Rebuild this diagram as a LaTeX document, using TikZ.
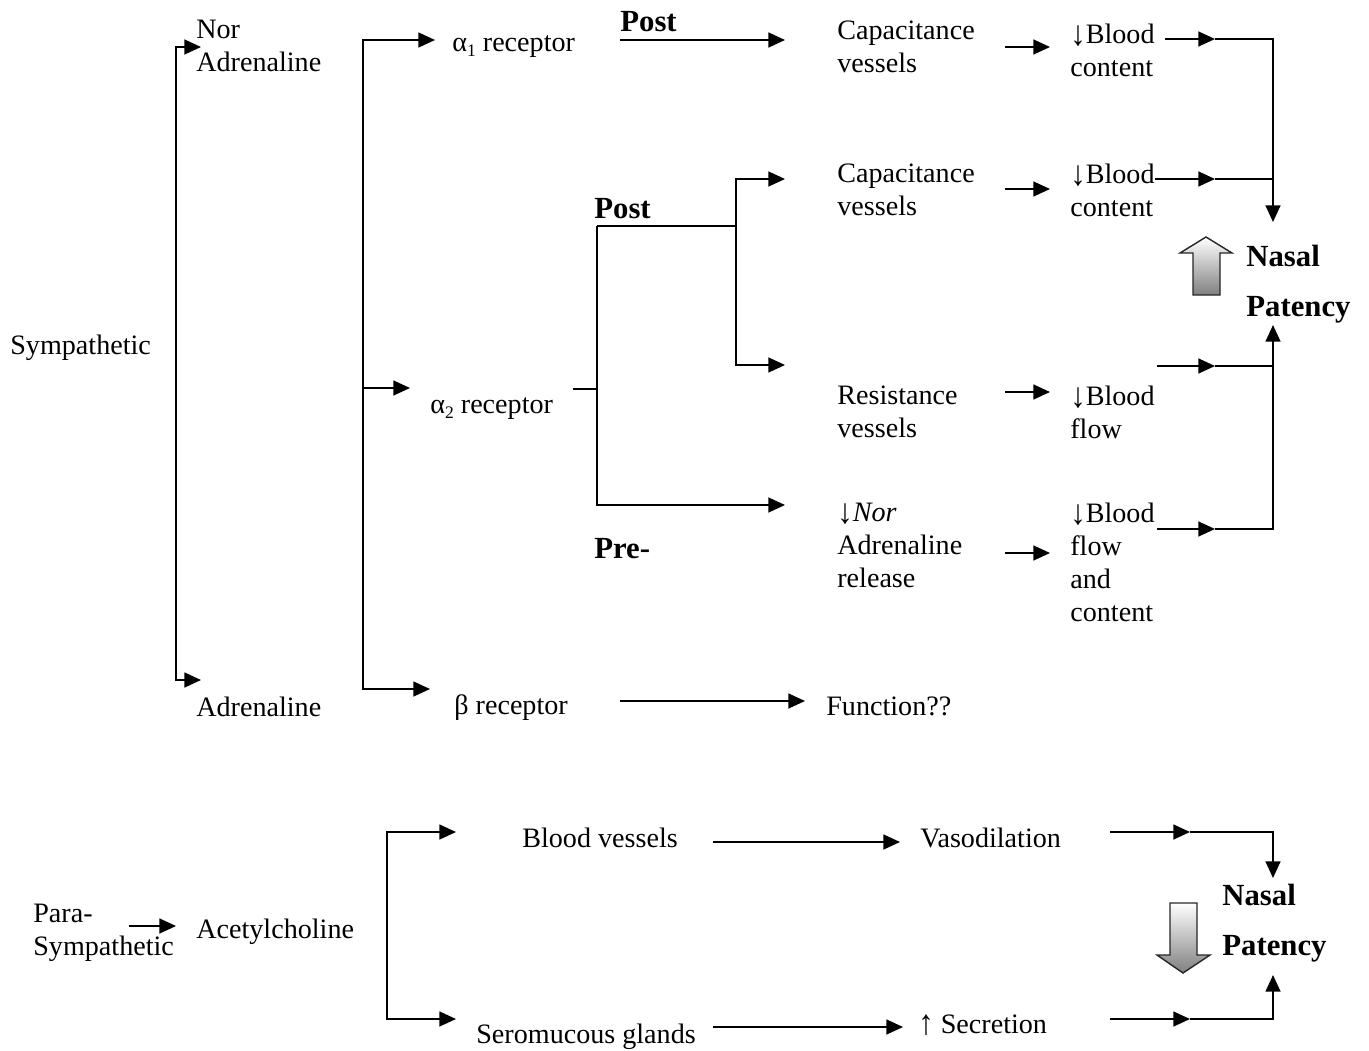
\documentclass[tikz,border=0pt]{standalone}
\usepackage{fontspec}
\setmainfont{Liberation Serif}
\usetikzlibrary{arrows.meta}

\newcommand{\lsub}[1]{\raisebox{-2.5pt}{\fontsize{10}{10}\selectfont #1}}
\newcommand{\dnar}{\raisebox{-1.5pt}{\scalebox{1.1}[1.25]{↓}}}
\newcommand{\uparr}{\raisebox{-0.5pt}{\scalebox{1.1}[1.25]{↑}}}

\tikzset{
  lbl/.style={anchor=west, inner sep=0pt, align=left, font=\fontsize{16}{18.8}\selectfont},
  hd/.style={anchor=west, inner sep=0pt, font=\fontsize{17.5}{20}\selectfont\bfseries},
  ln/.style={line width=1pt},
  arr/.style={ln, -{Triangle[length=9.5pt,width=8.5pt]}},
  arrs/.style={ln, {Triangle[length=9.5pt,width=8.5pt]}-{Triangle[length=9.5pt,width=8.5pt]}},
  fat/.style={draw=black!85, line width=0.8pt, top color=white, bottom color=black!50}
}

\begin{document}
\begin{tikzpicture}[x=0.02cm, y=-0.02cm]

\useasboundingbox (0,0) rectangle (1369,1051);

% Sympathetic
\node[lbl] (symp) at (10,348) {Sympathetic};
\node[lbl] (noradr) at (196,46) {Nor\\Adrenaline};
\node[lbl] (adr) at (196,707) {Adrenaline};

\node[lbl] (alpha1) at (452,47) {α\lsub{1} receptor};
\node[lbl] (alpha2) at (430,409) {α\lsub{2} receptor};
\node[lbl] (beta) at (454,708) {β receptor};

\node[hd] (post1) at (620,22) {Post};
\node[hd] (post2) at (594,209) {Post};
\node[hd] (pre) at (594,549) {Pre-};

\node[lbl] (cap1) at (837,47) {Capacitance\\vessels};
\node[lbl] (cap2) at (837,190) {Capacitance\\vessels};
\node[lbl] (res) at (837,412) {Resistance\\vessels};
\node[lbl] (norrel) at (837,545) {\dnar\textit{Nor}\\Adrenaline\\release};
\node[lbl] (func) at (826,706) {Function??};

\node[lbl] (bl1) at (1070,50) {\dnar Blood\\content};
\node[lbl] (bl2) at (1070,190) {\dnar Blood\\content};
\node[lbl] (bl3) at (1070,412) {\dnar Blood\\flow};
\node[lbl] (bl4) at (1070,562) {\dnar Blood\\flow\\and\\content};

\node[hd] (nasal1) at (1246,256) {Nasal};
\node[hd] (pat1) at (1246,310) {Patency};

% Para-sympathetic
\node[lbl] (para) at (33,933) {Para-\\Sympathetic};
\node[lbl] (ach) at (196,932) {Acetylcholine};
\node[lbl] (bv) at (522,838) {Blood vessels};
\node[lbl] (glands) at (476,1037) {Seromucous glands};
\node[lbl] (vaso) at (920,838) {Vasodilation};
\node[lbl] (secr) at (918,1025) {\uparr\ Secretion};
\node[hd] (nasal2) at (1222,895) {Nasal};
\node[hd] (pat2) at (1222,949) {Patency};

% Junctions
\coordinate (jtop) at (1273,39);
\coordinate (jbot) at (1273,529);
\coordinate (jvas) at (1273,832);
\coordinate (jsec) at (1273,1019);

% Brackets
\draw[arrs] (201,47) -- (176,47) -- (176,680) -- (201,680);
\draw[arrs] (435,40) -- (363,40) -- (363,689) -- (430,689);
\draw[arr] (363,388) -- (410,388);

% alpha 1
\draw[arr] (620,40) -- (785,40);
\draw[arr] (1005,47) -- (1050,47);
\draw[arr] (1165,39) -- (1215,39);
\draw[arr] (1215,39) -- (jtop) -- (1273,222);

% alpha 2
\draw[ln] (573,389) -- (597,389);
\draw[ln] (597,226) -- (736,226);
\draw[arr] (597,226) -- (597,505) -- (785,505);
\draw[arrs] (785,179) -- (736,179) -- (736,365) -- (785,365);

\draw[arr] (1005,189) -- (1050,189);
\draw[arr] (1005,392) -- (1050,392);
\draw[arr] (1005,553) -- (1050,553);

\draw[arr] (1155,179) -- (1215,179);
\draw[ln] (1215,179) -- (1273,179);
\draw[arr] (1157,366) -- (1215,366);
\draw[ln] (1215,366) -- (1273,366);
\draw[arr] (1157,529) -- (1215,529);
\draw[arr] (1215,529) -- (jbot) -- (1273,325);

% beta
\draw[arr] (620,701) -- (805,701);

% Fat arrow up
\draw[fat] (1206,237) -- (1232,253) -- (1220,253) -- (1220,295) -- (1193,295)
  -- (1193,253) -- (1180,253) -- cycle;

% Para-sympathetic arrows
\draw[arr] (129,926) -- (176,926);
\draw[arrs] (456,832) -- (387,832) -- (387,1019) -- (456,1019);
\draw[arr] (713,842) -- (900,842);
\draw[arr] (713,1027) -- (903,1027);
\draw[arr] (1110,832) -- (1190,832);
\draw[arr] (1190,832) -- (jvas) -- (1273,878);
\draw[arr] (1110,1019) -- (1190,1019);
\draw[arr] (1190,1019) -- (jsec) -- (1273,975);

% Fat arrow down
\draw[fat] (1170,903) -- (1197,903) -- (1197,955) -- (1210,955) -- (1183,973)
  -- (1157,955) -- (1170,955) -- cycle;

\end{tikzpicture}
\end{document}
